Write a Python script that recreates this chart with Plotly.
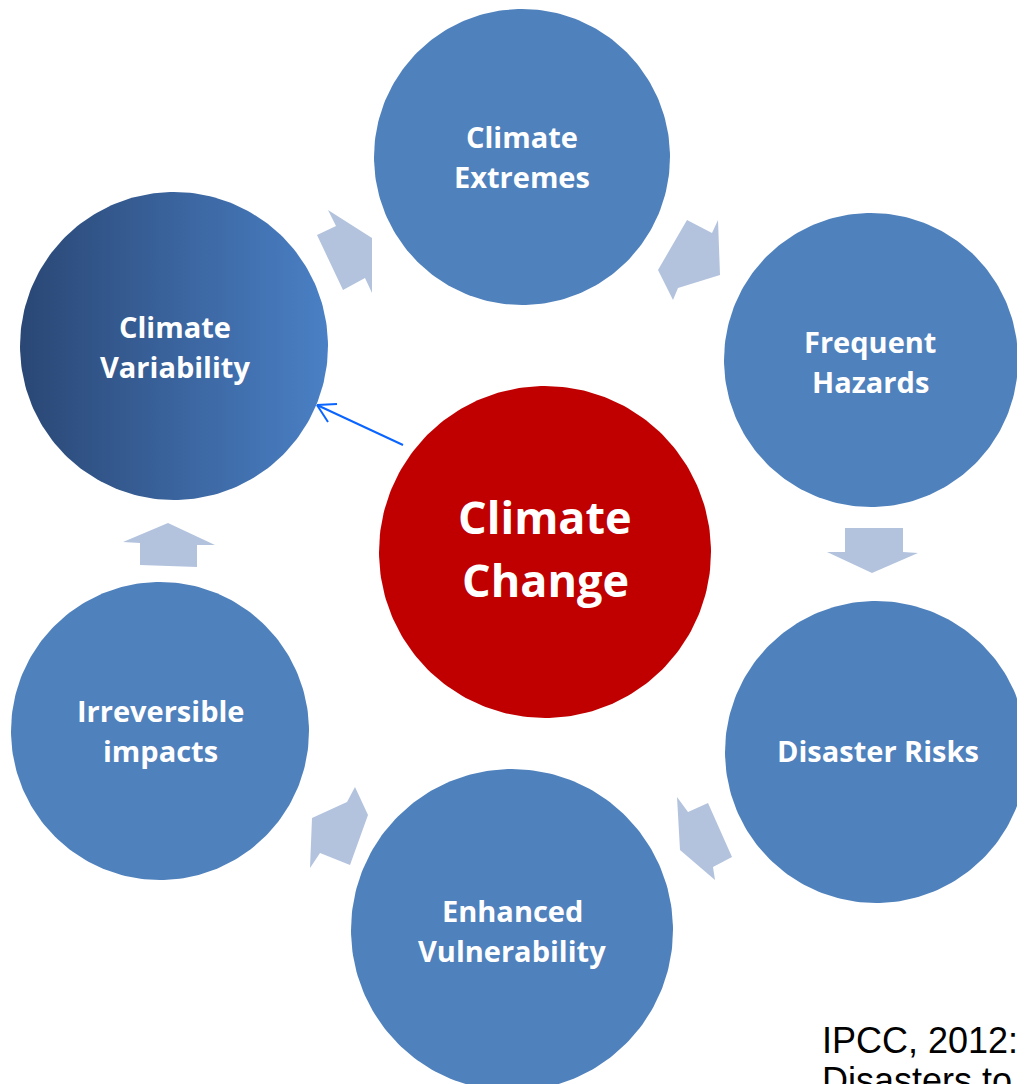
import numpy as np
import plotly.graph_objects as go

# ---- data ----
labels = ["Climate<br>Extremes", "Frequent<br>Hazards", "Disaster Risks",
          "Enhanced<br>Vulnerability", "Irreversible<br>impacts", "Climate<br>Variability",
          "Climate<br>Change"]
circle_x = [522, 871, 876, 512, 160, 174, 545]
circle_y = [157, 360, 752, 930, 731, 346, 552]
circle_r = [148, 147, 151, 161, 149, 154, 166]
label_x = [522, 870, 878, 512, 160, 175, 545]
label_y = [156, 361, 750, 930, 730, 346, 548]
circle_fill = ["#4F81BD", "#4F81BD", "#4F81BD", "#4F81BD", "#4F81BD", "gradient", "#C00000"]
label_size = [29, 29, 29, 29, 29, 29, 45]
line_gap = [40, 40, 40, 40, 40, 40, 63]

# block arrows between circles (pixel polygons)
arrows = [
    [(328, 210), (336, 226), (317, 235), (343, 290), (365, 278), (372, 293), (372, 238)],
    [(687, 220), (712, 233), (718, 220), (720, 275), (678, 288), (673, 300), (658, 270)],
    [(845, 528), (903, 528), (903, 552), (918, 553), (872, 573), (827, 552), (845, 552)],
    [(677, 797), (688, 812), (708, 803), (732, 857), (713, 867), (715, 880), (680, 850)],
    [(355, 787), (368, 815), (350, 865), (320, 853), (310, 868), (312, 818), (347, 802)],
    [(168, 523), (215, 545), (197, 545), (197, 567), (140, 565), (140, 543), (123, 542)],
]
arrow_color = "#B3C3DE"

pointer_start = (403, 445)
pointer_end = (317, 405)
pointer_heads = [(337, 404), (328, 422)]

source_lines = ["IPCC, 2012:", "Disasters to"]
source_x = 820
source_y = [1040, 1080]

W, H = 1025, 1084
OFF = 8  # page margin offset

fig = go.Figure()

# arrows
for poly in arrows:
    xs = [p[0] for p in poly] + [poly[0][0]]
    ys = [p[1] for p in poly] + [poly[0][1]]
    fig.add_trace(go.Scatter(x=xs, y=ys, mode="lines", fill="toself",
                             fillcolor=arrow_color, line=dict(width=0, color=arrow_color),
                             hoverinfo="skip", showlegend=False))

# circles
t = np.linspace(0, 2 * np.pi, 241)
for cx, cy, r, col in zip(circle_x, circle_y, circle_r, circle_fill):
    xs = cx + r * np.cos(t)
    ys = cy + r * np.sin(t)
    if col == "gradient":
        fig.add_trace(go.Scatter(x=xs, y=ys, mode="lines", fill="toself",
                                 fillgradient=dict(type="horizontal",
                                                   colorscale=[[0, "#2A4775"], [1, "#4A80C5"]]),
                                 line=dict(width=0, color="#3A64A0"),
                                 hoverinfo="skip", showlegend=False))
    else:
        fig.add_trace(go.Scatter(x=xs, y=ys, mode="lines", fill="toself",
                                 fillcolor=col, line=dict(width=0, color=col),
                                 hoverinfo="skip", showlegend=False))

# thin pointer arrow
fig.add_trace(go.Scatter(x=[pointer_start[0], pointer_end[0]], y=[pointer_start[1], pointer_end[1]],
                         mode="lines", line=dict(color="#0A64FF", width=2),
                         hoverinfo="skip", showlegend=False))
for hx, hy in pointer_heads:
    fig.add_trace(go.Scatter(x=[pointer_end[0], hx], y=[pointer_end[1], hy],
                             mode="lines", line=dict(color="#0A64FF", width=2),
                             hoverinfo="skip", showlegend=False))

# labels
for lab, lx, ly, sz, gap in zip(labels, label_x, label_y, label_size, line_gap):
    lines = lab.split("<br>")
    n = len(lines)
    for i, ln in enumerate(lines):
        yy = ly + (i - (n - 1) / 2) * gap
        fig.add_annotation(x=lx, y=yy, text=ln, showarrow=False,
                           xanchor="center", yanchor="middle",
                           font=dict(family="Open Sans", size=sz, color="white", weight=700))

for ln, yy in zip(source_lines, source_y):
    fig.add_annotation(x=source_x, y=yy, text=ln, showarrow=False,
                       xanchor="left", yanchor="middle",
                       font=dict(family="Liberation Sans, Arial", size=36, color="black"))

fig.update_layout(
    width=W - OFF, height=H - OFF, margin=dict(l=0, r=0, t=0, b=0),
    paper_bgcolor="white", plot_bgcolor="white",
    xaxis=dict(range=[OFF, W], visible=False, fixedrange=True),
    yaxis=dict(range=[H, OFF], visible=False, fixedrange=True),
    showlegend=False,
)

fig.write_html("out.html")
